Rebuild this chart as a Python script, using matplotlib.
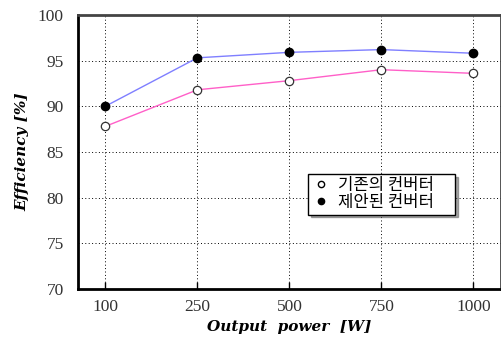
import matplotlib
matplotlib.use("Agg")
import matplotlib.pyplot as plt
from matplotlib.lines import Line2D

# data
power_labels = ["100", "250", "500", "750", "1000"]
eff_old = [87.8, 91.8, 92.8, 94.0, 93.6]   # 기존의 컨버터
eff_new = [90.0, 95.3, 95.9, 96.2, 95.8]   # 제안된 컨버터

BLUE = "#7f7fff"
PINK = "#ff5fc8"

fig = plt.figure(figsize=(5.02, 3.38), dpi=100)
ax = fig.add_axes([0.155, 0.145, 0.843, 0.811])

x = list(range(len(power_labels)))

ax.plot(x, eff_new, color=BLUE, linewidth=1.0, zorder=3)
ax.plot(x, eff_old, color=PINK, linewidth=1.0, zorder=3)
ax.plot(x, eff_new, linestyle="none", marker="o", markersize=6,
        markerfacecolor="black", markeredgecolor="black", zorder=4)
ax.plot(x, eff_old, linestyle="none", marker="o", markersize=6,
        markerfacecolor="white", markeredgecolor="#333333",
        markeredgewidth=0.9, zorder=4)

ax.set_xlim(-0.3, 4.3)
ax.set_ylim(70, 100)
ax.set_xticks(x)
ax.set_xticklabels(power_labels)
ax.set_yticks(range(70, 101, 5))

for lbl in ax.get_xticklabels() + ax.get_yticklabels():
    lbl.set_fontfamily("Liberation Serif")
    lbl.set_fontsize(12.5)
    lbl.set_color("#333333")

ax.tick_params(axis="x", direction="in", length=5, width=1, pad=7)
ax.tick_params(axis="y", length=0, pad=10)

ax.grid(True, color="black", linestyle=(0, (1, 2.5)), linewidth=0.7)

for side in ["left", "bottom"]:
    ax.spines[side].set_linewidth(2)
    ax.spines[side].set_color("black")
for side in ["top", "right"]:
    ax.spines[side].set_linewidth(2)
    ax.spines[side].set_color("#444444")

ax.set_xlabel("Output  power  [W]", family="DejaVu Serif", style="italic",
              fontweight="bold", fontsize=11, labelpad=4)
ax.set_ylabel("Efficiency [%]", family="DejaVu Serif", style="italic",
              fontweight="bold", fontsize=11, labelpad=6)

handles = [
    Line2D([], [], linestyle="none", marker="o", markersize=4.5,
           markerfacecolor="white", markeredgecolor="black"),
    Line2D([], [], linestyle="none", marker="o", markersize=4.5,
           markerfacecolor="black", markeredgecolor="black"),
]
# legend box stretched to the reference width (mode="expand")
leg = ax.legend(handles, ["기존의 컨버터", "제안된 컨버터"],
                loc="upper left", bbox_to_anchor=(0.544, 0.27, 0.348, 0.15),
                mode="expand", borderaxespad=0,
                prop=dict(family=["Noto Sans CJK KR", "DejaVu Sans"], size=12),
                frameon=True, fancybox=False,
                shadow={"ox": 2, "oy": -2, "color": "#555555"},
                edgecolor="black", framealpha=1,
                handlelength=1.2, handletextpad=0.4,
                borderpad=0.2, labelspacing=0.0)
leg.get_frame().set_linewidth(1.0)

fig.savefig("out.png", dpi=100)
